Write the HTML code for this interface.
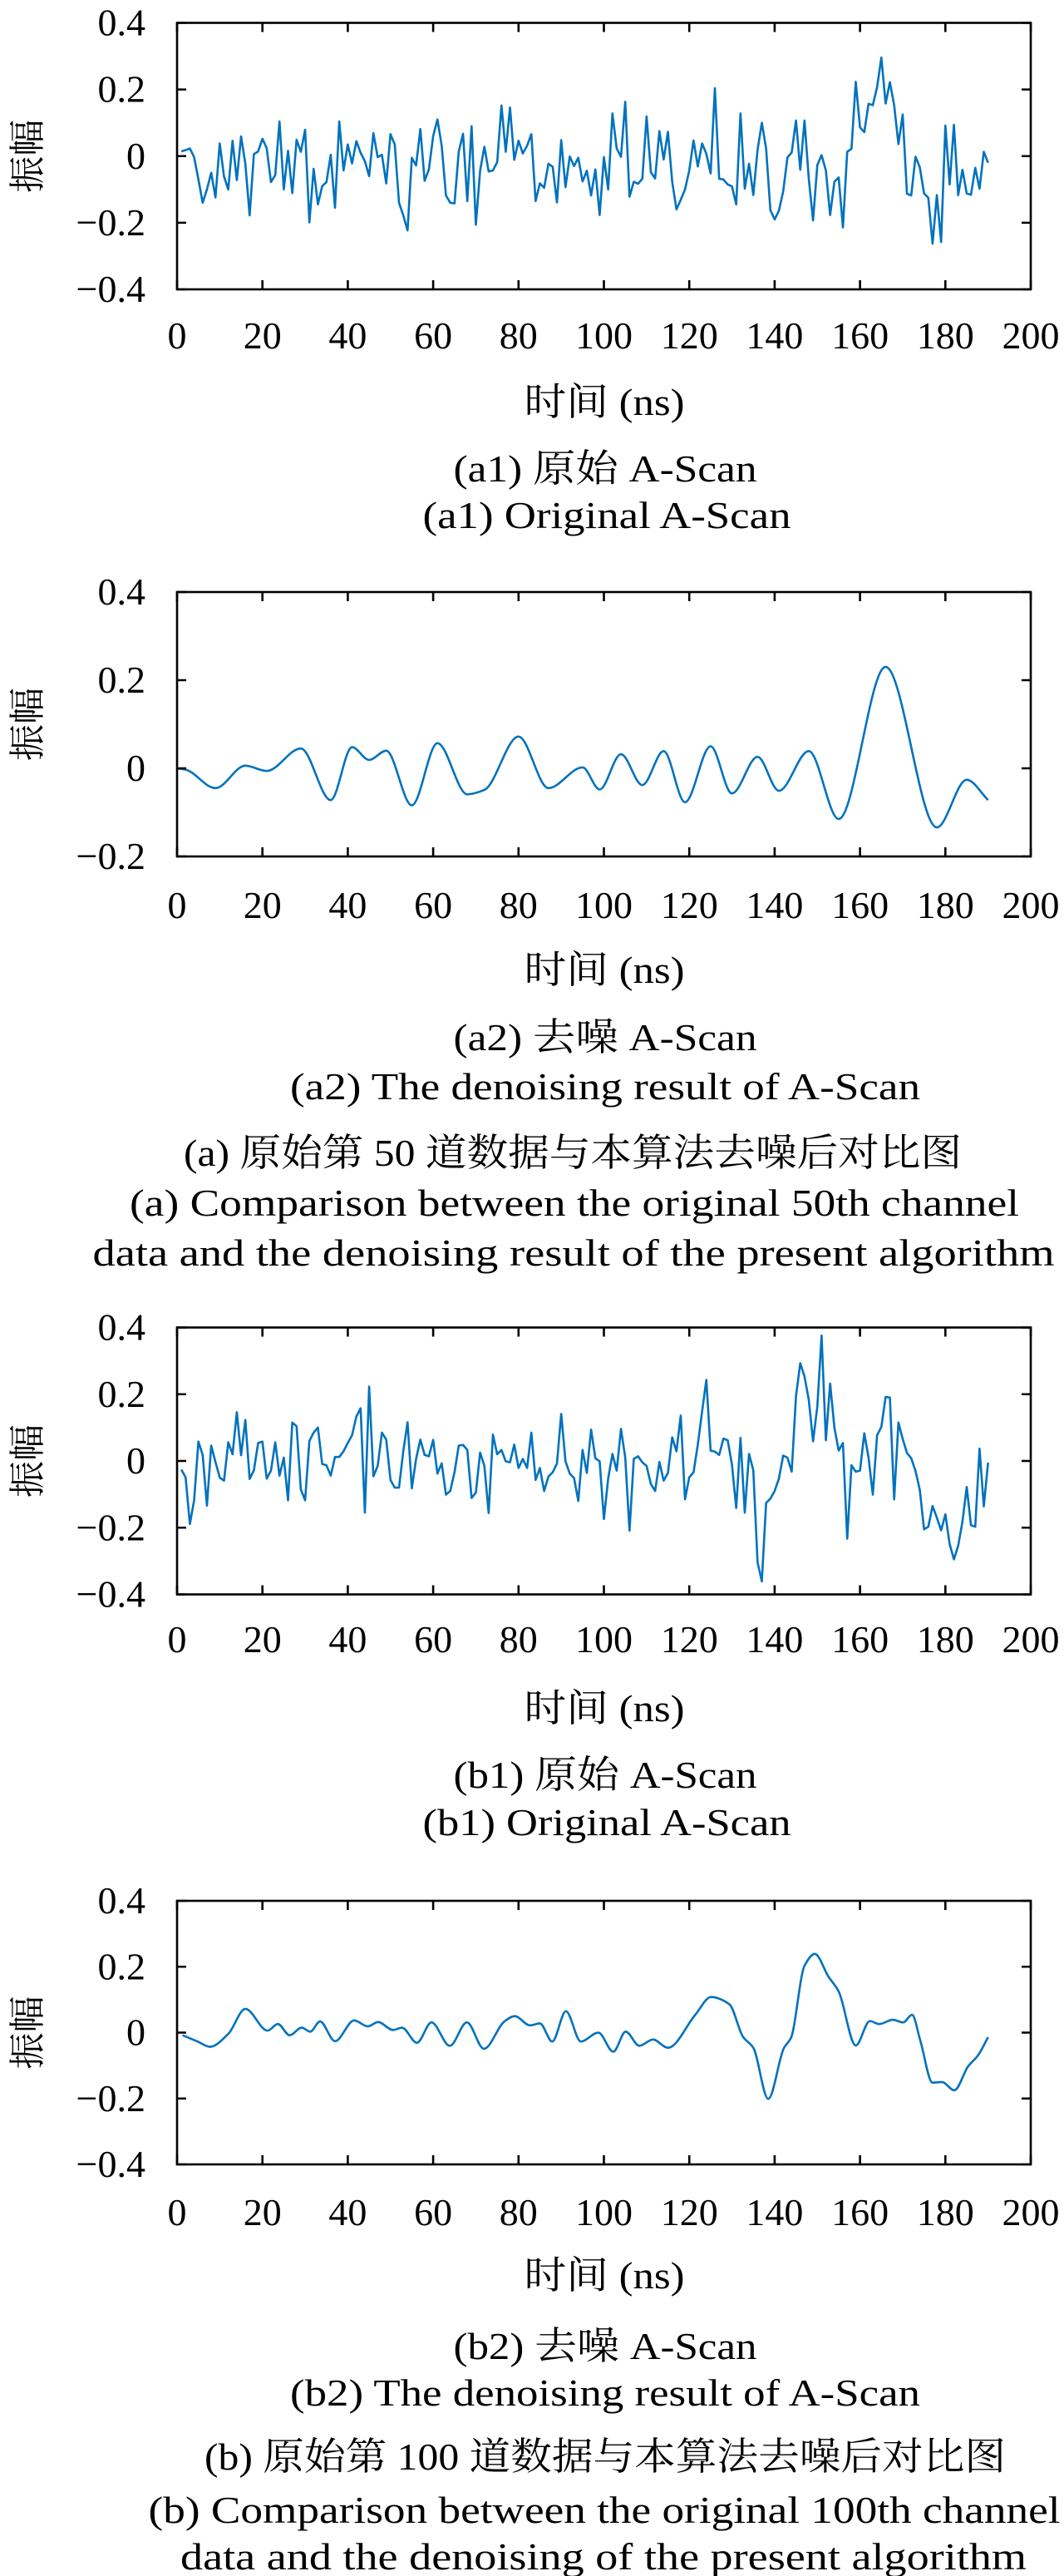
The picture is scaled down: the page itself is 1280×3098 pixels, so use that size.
<!DOCTYPE html>
<html><head><meta charset="utf-8">
<style>
html,body{margin:0;padding:0;background:#fff;}
svg{display:block;}
text{font-family:"Liberation Serif","Noto Serif CJK SC","Noto Sans CJK SC",serif;fill:#000;}
</style></head>
<body>
<svg id="fig" width="1280" height="3098" viewBox="0 0 1280 3098" xmlns="http://www.w3.org/2000/svg"></svg>
<script>
// ---- data ----
const xTicks = [0,20,40,60,80,100,120,140,160,180,200];
const yTicksFull = [-0.4,-0.2,0,0.2,0.4];
const yTicksA2 = [-0.2,0,0.2,0.4];
const yTickLabelsFull = ["\u22120.4","\u22120.2","0","0.2","0.4"];
const yTickLabelsA2 = ["\u22120.2","0","0.2","0.4"];

// (a1) original A-scan, channel 50, sample t = 1..190 ns
const a1Values = [0.014,0.018,0.023,-0.003,-0.07,-0.14,-0.1,-0.05,-0.124,0.038,-0.061,-0.1,0.046,-0.072,0.059,-0.023,-0.178,0.006,0.014,0.052,
0.024,-0.078,-0.057,0.104,-0.1,0.016,-0.111,0.049,0.013,0.079,-0.199,-0.038,-0.145,-0.09,-0.078,0.004,-0.155,0.104,-0.043,0.035,
-0.022,0.045,0.01,-0.015,-0.06,0.069,-0.003,0.004,-0.082,0.066,0.035,-0.14,-0.178,-0.223,-0.005,-0.028,0.081,-0.074,-0.04,0.06,
0.11,0.031,-0.118,-0.14,-0.142,0.014,0.067,-0.135,0.09,-0.206,-0.044,0.028,-0.046,-0.043,-0.018,0.152,0.013,0.146,-0.011,0.046,
0.008,0.031,0.066,-0.135,-0.082,-0.095,-0.023,-0.032,-0.139,0.048,-0.093,-0.001,-0.03,-0.005,-0.076,-0.044,-0.118,-0.04,-0.177,-0.003,
-0.1,0.128,0.023,-0.002,0.163,-0.122,-0.077,-0.083,-0.068,0.119,-0.048,-0.067,0.075,-0.01,0.073,-0.077,-0.16,-0.131,-0.1,-0.043,
0.047,-0.031,0.038,0.007,-0.052,0.204,-0.068,-0.07,-0.085,-0.091,-0.145,0.128,-0.098,-0.023,-0.117,0.019,0.1,0.023,-0.162,-0.19,
-0.164,-0.106,-0.004,0.011,0.107,-0.041,0.107,-0.068,-0.193,-0.027,0.003,-0.043,-0.177,-0.077,-0.064,-0.214,0.013,0.022,0.223,0.086,
0.072,0.157,0.153,0.207,0.296,0.158,0.222,0.153,0.036,0.125,-0.113,-0.118,-0.002,-0.033,-0.112,-0.125,-0.263,-0.117,-0.258,0.092,
-0.085,0.094,-0.117,-0.041,-0.112,-0.116,-0.035,-0.098,0.013,-0.02];

// (a2) denoised channel 50 – knots (ns, amplitude)
const a2Times = [0,2,9,16,21,29,36,41,45,49,55,61,68,72,80,87,95,99,104,109,114,119,125,130,136,141,148,155,166,178,185,190];
const a2Values = [0,-0.003,-0.045,0.006,-0.006,0.045,-0.072,0.048,0.019,0.04,-0.084,0.057,-0.059,-0.049,0.072,-0.045,0.002,-0.048,0.032,-0.038,0.039,-0.077,0.05,-0.057,0.026,-0.051,0.039,-0.115,0.23,-0.134,-0.026,-0.072];

// (b1) original A-scan, channel 100, t = 1..190 ns
const b1Values = [-0.026,-0.049,-0.189,-0.118,0.058,0.018,-0.134,0.046,-0.003,-0.05,-0.059,0.056,0.02,0.146,0.017,0.123,-0.054,-0.028,0.054,0.058,
-0.053,-0.029,0.056,-0.044,0.01,-0.118,0.115,0.104,-0.085,-0.118,0.06,0.085,0.1,-0.009,-0.013,-0.044,0.012,0.012,0.029,0.054,
0.077,0.133,0.158,-0.155,0.223,-0.046,-0.015,0.085,0.064,-0.057,-0.08,-0.08,0.029,0.116,-0.082,0.006,0.064,0.018,0.014,0.063,
-0.038,-0.007,-0.101,-0.09,-0.034,0.046,0.048,0.033,-0.111,-0.095,0.025,-0.015,-0.156,0.079,0.02,0.033,-0.001,-0.004,0.049,-0.021,
0.006,-0.021,0.085,-0.057,-0.021,-0.09,-0.047,-0.034,-0.008,0.141,-0.001,-0.038,-0.051,-0.12,0.033,-0.036,0.094,0.008,-0.001,-0.174,
-0.053,0.021,-0.029,0.096,0.01,-0.209,0.006,0.014,-0.004,-0.015,-0.069,-0.09,-0.003,-0.059,-0.036,0.071,0.029,0.136,-0.115,-0.049,
-0.034,0.049,0.148,0.243,0.031,0.028,0.018,0.067,0.062,-0.011,-0.141,0.069,-0.155,0.021,-0.028,-0.304,-0.361,-0.126,-0.113,-0.09,
-0.053,0.016,0.01,-0.032,0.194,0.293,0.253,0.183,0.059,0.163,0.376,0.062,0.232,0.1,0.031,0.054,-0.233,-0.013,-0.032,-0.029,
0.083,0.01,-0.101,0.077,0.102,0.192,0.19,-0.115,0.115,0.066,0.024,0.008,-0.03,-0.086,-0.205,-0.197,-0.135,-0.17,-0.208,-0.16,
-0.249,-0.295,-0.254,-0.182,-0.078,-0.193,-0.197,0.037,-0.136,-0.005];

// (b2) denoised channel 100 – knots
const b2Times = [1.3,4.8,7.7,12,16,21.2,23.6,26.4,29.2,31.2,33.5,37,41.5,44.7,47.1,50.6,52.7,56.2,59.6,63.9,67.9,71.9,76.7,79.1,82.7,85,87.9,91.1,94.6,98.7,102.2,105.1,108.3,111.5,115,121.4,125.1,129.4,132.6,135,138.5,142.2,143.8,147,149.4,152.6,155,159,162.3,164.5,167.7,170.1,172.2,174.1,177,179.2,182.1,185.3,187.7,190];
const b2Values = [-0.008,-0.027,-0.043,-0.004,0.072,0.006,0.026,-0.008,0.015,0.003,0.034,-0.026,0.037,0.019,0.032,0.008,0.015,-0.031,0.031,-0.04,0.031,-0.049,0.034,0.05,0.022,0.028,-0.027,0.065,-0.027,0,-0.058,0.003,-0.04,-0.021,-0.046,0.054,0.108,0.086,-0.013,-0.046,-0.201,-0.046,-0.017,0.203,0.239,0.17,0.125,-0.039,0.035,0.026,0.039,0.031,0.054,-0.023,-0.152,-0.15,-0.175,-0.103,-0.068,-0.014];

// ---- drawing ----
const NS = "http://www.w3.org/2000/svg";
const svg = document.getElementById("fig");
function mk(tag, attrs, parent){
  const e = document.createElementNS(NS, tag);
  for (const k in attrs) e.setAttribute(k, attrs[k]);
  (parent||svg).appendChild(e);
  return e;
}
function txt(str, x, y, size, anchor, parent, len){
  const a = {x:x, y:y, "font-size":size, "text-anchor":anchor||"middle"};
  if (len){ a.textLength = len; a.lengthAdjust = "spacingAndGlyphs"; }
  const t = mk("text", a, parent);
  t.textContent = str;
  return t;
}
const PL = 213, PR = 1240, XMIN = 0, XMAX = 200;
function xs(v){ return PL + (v - XMIN) / (XMAX - XMIN) * (PR - PL); }

function monotonePath(px, py){
  const n = px.length;
  if (n < 2) return "";
  const d = [], m = new Array(n);
  for (let i=0;i<n-1;i++) d.push((py[i+1]-py[i])/(px[i+1]-px[i]));
  m[0] = d[0]; m[n-1] = d[n-2];
  for (let i=1;i<n-1;i++){
    if (d[i-1]*d[i] <= 0) m[i] = 0;
    else { const w1 = 2*(px[i+1]-px[i])+(px[i]-px[i-1]); const w2 = (px[i+1]-px[i])+2*(px[i]-px[i-1]);
      m[i] = (w1+w2)/(w1/d[i-1]+w2/d[i]); }
  }
  let s = "M"+px[0].toFixed(2)+","+py[0].toFixed(2);
  for (let i=0;i<n-1;i++){
    const h = (px[i+1]-px[i])/3;
    s += " C"+(px[i]+h).toFixed(2)+","+(py[i]+m[i]*h).toFixed(2)+" "+(px[i+1]-h).toFixed(2)+","+(py[i+1]-m[i+1]*h).toFixed(2)+" "+px[i+1].toFixed(2)+","+py[i+1].toFixed(2);
  }
  return s;
}

function panel(cfg){
  const g = mk("g", {});
  
  
  const top = cfg.top, bot = cfg.bot, ymin = cfg.ymin, ymax = cfg.ymax;
  const ys = v => bot - (v - ymin) / (ymax - ymin) * (bot - top);
  // series
  let d;
  if (cfg.smooth){
    d = monotonePath(cfg.times.map(xs), cfg.values.map(ys));
  } else {
    d = cfg.values.map((v,i) => (i? "L":"M") + xs(i+1).toFixed(2) + "," + ys(v).toFixed(2)).join(" ");
  }
  const line = mk("path", {d:d, fill:"none", stroke:"#0072BD", "stroke-width":2.6, "stroke-linejoin":"round"}, g);
  
  
  // frame
  const frame = mk("rect", {x:PL, y:top, width:PR-PL, height:bot-top, fill:"none", stroke:"#000", "stroke-width":2.6}, g);
  
  
  // x ticks
  xTicks.forEach(t => {
    const x = xs(t);
    const tk = mk("path", {d:"M"+x+","+bot+"v-11M"+x+","+top+"v11", stroke:"#000", "stroke-width":2.6}, g);
    
    
    const lb = txt(String(t), x, cfg.xlabY + 15, 46, "middle", g);
    
    
  });
  // y ticks
  cfg.yticks.forEach((t,i) => {
    const y = ys(t);
    const tk = mk("path", {d:"M"+PL+","+y+"h11M"+PR+","+y+"h-11", stroke:"#000", "stroke-width":2.6}, g);
    
    
    const lb = txt(cfg.ylabels[i], 175, y + 15, 46, "end", g);
    
    
  });
  // y-axis title
  const yc = (top + bot) / 2;
  const yt = mk("text", {x:0, y:0, "font-size":44, "text-anchor":"middle", transform:"translate(48,"+yc+") rotate(-90)"}, g);
  yt.textContent = "振幅";
  
  
  // x-axis title
  const xt = txt("时间 (ns)", 727, cfg.xtitleY + 15, 46, "middle", g, 193);
  
  
}

panel({name:"panel-a1", top:27.5, bot:348, ymin:-0.4, ymax:0.4, yticks:yTicksFull, ylabels:yTickLabelsFull, values:a1Values, smooth:false, xlabY:404, xtitleY:484});
panel({name:"panel-a2", top:712, bot:1030, ymin:-0.2, ymax:0.4, yticks:yTicksA2, ylabels:yTickLabelsA2, times:a2Times, values:a2Values, smooth:true, xlabY:1089, xtitleY:1167});
panel({name:"panel-b1", top:1596.5, bot:1917.5, ymin:-0.4, ymax:0.4, yticks:yTicksFull, ylabels:yTickLabelsFull, values:b1Values, smooth:false, xlabY:1972, xtitleY:2055});
panel({name:"panel-b2", top:2286, bot:2603, ymin:-0.4, ymax:0.4, yticks:yTicksFull, ylabels:yTickLabelsFull, times:b2Times, values:b2Values, smooth:true, xlabY:2661, xtitleY:2737});

// captions
const c1 = txt("(a1) 原始 A-Scan", 728, 564+15, 46, "middle", svg, 365);


const c2 = txt("(a1) Original A-Scan", 730, 620+15, 46, "middle", svg, 443);


const c3 = txt("(a2) 去噪 A-Scan", 728, 1248+15, 46, "middle", svg, 365);


const c4 = txt("(a2) The denoising result of A-Scan", 728, 1307+15, 46, "middle", svg, 758);


const c5 = txt("(a) 原始第 50 道数据与本算法去噪后对比图", 689, 1387+15, 46, "middle", svg, 936);


const c6 = txt("(a) Comparison between the original 50th channel", 691, 1447+15, 46, "middle", svg, 1070);


const c7 = txt("data and the denoising result of the present algorithm", 690, 1507+15, 46, "middle", svg, 1157);


const c8 = txt("(b1) 原始 A-Scan", 728, 2135+15, 46, "middle", svg, 365);


const c9 = txt("(b1) Original A-Scan", 730, 2192+15, 46, "middle", svg, 443);


const c10 = txt("(b2) 去噪 A-Scan", 728, 2822+15, 46, "middle", svg, 365);


const c11 = txt("(b2) The denoising result of A-Scan", 728, 2878+15, 46, "middle", svg, 758);


const c12 = txt("(b) 原始第 100 道数据与本算法去噪后对比图", 728, 2955+15, 46, "middle", svg, 964);


const c13 = txt("(b) Comparison between the original 100th channel", 727, 3019+15, 46, "middle", svg, 1097);


const c14 = txt("data and the denoising of the present algorithm", 726, 3075+15, 46, "middle", svg, 1018);


</script>
</body></html>
